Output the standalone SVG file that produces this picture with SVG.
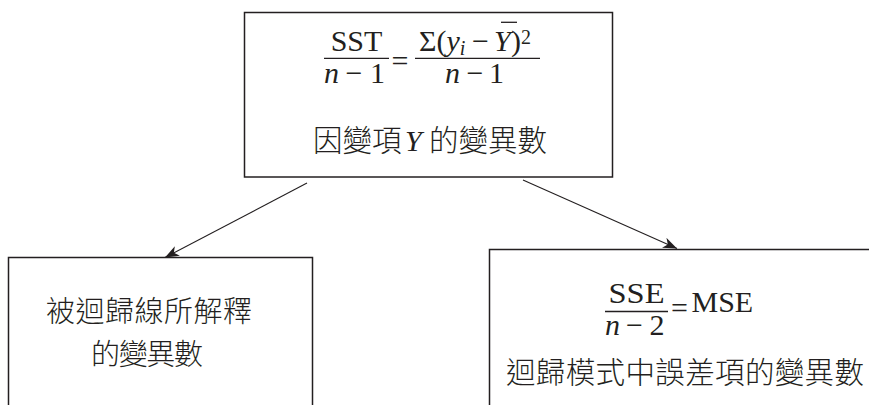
<svg xmlns="http://www.w3.org/2000/svg" width="869" height="405" viewBox="0 0 869 405">
<style>
.box{fill:none;stroke:#231f20;stroke-width:1.5}
.conn{fill:none;stroke:#231f20;stroke-width:1.1}
.bar{stroke:#231f20;stroke-width:1.3}
.m{font-family:"Liberation Serif","Times New Roman",serif;font-size:30px;fill:#231f20}
.i{font-style:italic}
.cjk{font-family:"Noto Sans CJK TC","Noto Sans CJK SC",sans-serif;font-weight:300;fill:#231f20}
</style>
<defs>
<marker id="ah" markerUnits="userSpaceOnUse" markerWidth="15" markerHeight="11" refX="14" refY="5.5" orient="auto">
<path d="M0,0 L14,5.5 L0,11 L4,5.5 z" fill="#231f20"/>
</marker>
</defs>
<rect width="869" height="405" fill="#ffffff"/>
<g id="node-top">
<rect class="box" x="244.5" y="12.5" width="368" height="164.5"/>
<text class="m" x="356.5" y="51" text-anchor="middle">SST</text>
<line class="bar" x1="324" y1="58.3" x2="389" y2="58.3"/>
<text class="m" y="83.3"><tspan class="i" x="324">n</tspan><tspan x="345.5">−</tspan><tspan x="370">1</tspan></text>
<text class="m" x="391.5" y="70.5">=</text>
<text class="m" y="51"><tspan x="419">Σ(</tspan><tspan class="i">y</tspan><tspan class="i" font-size="20" dy="4">i</tspan><tspan x="472" dy="-4">−</tspan><tspan class="i" x="494">Y</tspan><tspan x="511">)</tspan><tspan font-size="20" dy="-7">2</tspan></text>
<line class="bar" x1="501" y1="22.3" x2="517" y2="22.3" stroke-width="1.7"/>
<line class="bar" x1="415" y1="58.3" x2="540" y2="58.3"/>
<text class="m" y="83.3"><tspan class="i" x="445">n</tspan><tspan x="466.5">−</tspan><tspan x="489">1</tspan></text>
<text class="cjk" font-size="29.5" x="313" y="151">因變項</text>
<text class="m i" x="405" y="151">Y</text>
<text class="cjk" font-size="29.5" x="429" y="151">的變異數</text>
</g>
<g id="node-left">
<rect class="box" x="8.5" y="257.5" width="304" height="160"/>
<text class="cjk" font-size="29" x="46" y="322" textLength="206" lengthAdjust="spacing">被迴歸線所解釋</text>
<text class="cjk" font-size="29" x="91" y="365" textLength="112" lengthAdjust="spacing">的變異數</text>
</g>
<g id="node-right">
<rect class="box" x="489.5" y="249.5" width="390" height="170"/>
<text class="m" font-size="31" x="608.5" y="303.3" textLength="56" lengthAdjust="spacingAndGlyphs">SSE</text>
<line class="bar" x1="605" y1="311.5" x2="668" y2="311.5"/>
<text class="m" font-size="31" y="335"><tspan class="i" x="605">n</tspan><tspan x="626">−</tspan><tspan x="649.5">2</tspan></text>
<text class="m" font-size="31" x="671" y="318">=</text>
<text class="m" font-size="31" x="691.5" y="311.7">MSE</text>
<text class="cjk" font-size="29.5" x="506" y="383" textLength="358" lengthAdjust="spacing">迴歸模式中誤差項的變異數</text>
</g>
<g id="connectors">
<line class="conn" x1="307" y1="183" x2="165" y2="257.5" marker-end="url(#ah)"/>
<line class="conn" x1="523" y1="180" x2="677" y2="248.5" marker-end="url(#ah)"/>
</g>
</svg>
